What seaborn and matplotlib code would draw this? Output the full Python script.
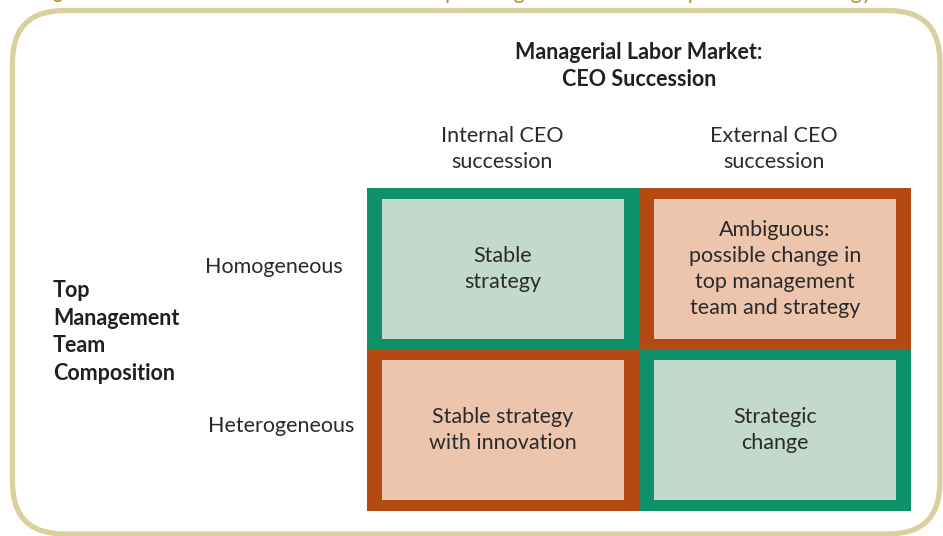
import numpy as np
import matplotlib
matplotlib.use("Agg")
import matplotlib.pyplot as plt
from matplotlib.colors import ListedColormap
from matplotlib.patches import Rectangle, FancyBboxPatch
import seaborn as sns

# ---- data ----
col_labels = ["Internal CEO\nsuccession", "External CEO\nsuccession"]
row_labels = ["Homogeneous", "Heterogeneous"]
cell_codes = [[0, 1],
              [1, 0]]          # 0 = stable (green), 1 = change/ambiguous (orange)
cell_texts = [["Stable\nstrategy",
               "Ambiguous:\npossible change in\ntop management\nteam and strategy"],
              ["Stable strategy\nwith innovation",
               "Strategic\nchange"]]
top_title = "Managerial Labor Market:\nCEO Succession"
side_title = "Top\nManagement\nTeam\nComposition"
fig_label = "Figure 12.4"
fig_caption = "Effects of CEO Succession and Top Management Team Composition on Strategy"

# ---- style ----
border_cols = ["#0E9068", "#B34A14"]
fill_cols = ["#C3D9CE", "#EDC5AD"]
text_col = "#2A2A2A"
frame_col = "#DCCF9E"
gold = "#B0902E"
FS = 15.5
LS = 1.38

sns.set_theme(style="white")
plt.rcParams["font.family"] = ["Lato", "DejaVu Sans"]

W, H = 943, 536
fig = plt.figure(figsize=(W / 100, H / 100), dpi=100)
fig.patch.set_facecolor("white")

def fx(x):
    return x / W

def fy(y):
    return 1 - y / H

# outer rounded frame
frame = FancyBboxPatch((fx(12.5), fy(534)), fx(940) - fx(12.5), fy(10.5) - fy(534),
                       boxstyle="round,pad=0,rounding_size=0.055",
                       transform=fig.transFigure, facecolor="none",
                       edgecolor=frame_col, linewidth=3.8, mutation_aspect=W / H,
                       zorder=-1)
fig.patches.append(frame)

# caption at top (cut off at the image edge in the reference as well)
fig.text(fx(40), fy(-1), fig_label, color=gold, fontsize=12, fontweight="bold",
         ha="left", va="baseline")
fig.text(fx(872), fy(-1), fig_caption, color=gold, fontsize=15,
         ha="right", va="baseline")

# grid axes
x0, x1, y0, y1 = 367, 911, 188, 511
ax = fig.add_axes([fx(x0), fy(y1), fx(x1) - fx(x0), fy(y0) - fy(y1)])
codes = np.array(cell_codes)
sns.heatmap(codes, ax=ax, cmap=ListedColormap(border_cols), vmin=0, vmax=1,
            cbar=False, annot=np.array(cell_texts), fmt="",
            annot_kws={"color": text_col, "fontsize": FS, "linespacing": LS},
            xticklabels=False, yticklabels=False, linewidths=0)
ax.set_xlabel("")
ax.set_ylabel("")
dx, dy = 15 / 272, 0.066
for i in range(codes.shape[0]):
    for j in range(codes.shape[1]):
        ax.add_patch(Rectangle((j + dx, i + dy), 1 - 2 * dx, 1 - 2 * dy,
                               facecolor=fill_cols[codes[i, j]], edgecolor="none",
                               zorder=2))
for t in ax.texts:
    t.set_zorder(5)
for s in ax.spines.values():
    s.set_visible(False)

# headings
fig.text(fx(639), fy(66), top_title, ha="center", va="center", fontsize=FS,
         fontweight="bold", color="#231F20", linespacing=LS)
col_x = [502, 774]
for lab, cx in zip(col_labels, col_x):
    fig.text(fx(cx), fy(149), lab, ha="center", va="center", fontsize=FS,
             color=text_col, linespacing=LS)
row_pos = [(205, 267), (208, 426)]
for lab, (rx, ry) in zip(row_labels, row_pos):
    fig.text(fx(rx), fy(ry), lab, ha="left", va="center", fontsize=FS,
             color=text_col)
fig.text(fx(53), fy(332), side_title, ha="left", va="center", fontsize=FS,
         fontweight="bold", color="#231F20", linespacing=LS)

fig.savefig("out.png", dpi=100)
